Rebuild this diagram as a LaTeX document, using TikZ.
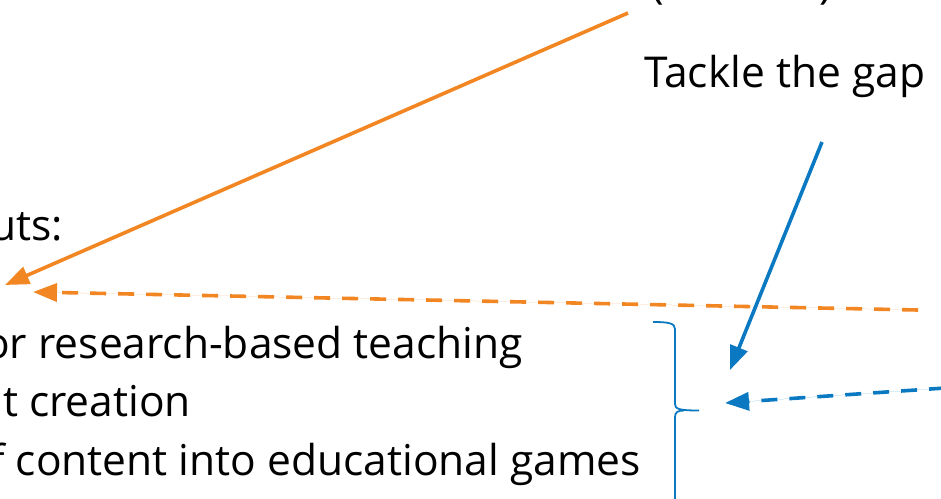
\documentclass[tikz,border=0pt]{standalone}
\usepackage{fontspec}
\setmainfont{Open Sans}
\usetikzlibrary{arrows.meta}
\definecolor{orangeln}{RGB}{242,134,34}
\definecolor{blueln}{RGB}{10,121,193}
\tikzset{
  txt/.style={inner sep=0pt, font=\fontsize{42.5}{50}\selectfont, text=black},
  conn/.style={line width=3.6pt, -{Triangle[length=24pt,width=18pt]}},
  dashconn/.style={conn, dash pattern=on 16pt off 12pt},
  bracepath/.style={draw=blueln, line width=1.8pt}
}
\begin{document}
\begin{tikzpicture}[x=1pt,y=-1pt]
\useasboundingbox (0,0) rectangle (941,498);
\clip (0,0) rectangle (941,498);
% texts
\node[txt, anchor=base west] (top) at (651,-2) {(Teacher) tools};
\node[txt, anchor=base west] (gap) at (644,87) {Tackle the gap};
\node[txt, anchor=base east] (out) at (63,240) {Outputs:};
\node[txt, anchor=base east] (l1) at (523,358) {Tools for research-based teaching};
\node[txt, anchor=base east] (l2) at (191,416.5) {Content creation};
\node[txt, anchor=base east] (l3) at (641,475) {Integration of content into educational games};
% connector end points
\coordinate (os) at (628,13);
\coordinate (oe) at (5,285);
\coordinate (ds) at (918,310);
\coordinate (de) at (33,292);
\coordinate (bs) at (822,142);
\coordinate (be) at (730,370);
\coordinate (bds) at (945,388);
\coordinate (bde) at (725,403);
% brace
\draw[bracepath] (653,322) .. controls (668,322) and (675,323) .. (675,329)
  -- (675,404) .. controls (675,409) and (679,410.5) .. (699,410.5);
\draw[bracepath] (684,410.5) .. controls (678,410.5) and (675,412) .. (675,417)
  -- (675,505);
% connectors
\draw[conn, draw=orangeln, fill=orangeln] (os) -- (oe);
\draw[dashconn, draw=orangeln, fill=orangeln] (ds) -- (de);
\draw[conn, draw=blueln, fill=blueln] (bs) -- (be);
\draw[dashconn, draw=blueln, fill=blueln] (bds) -- (bde);
\end{tikzpicture}
\end{document}
